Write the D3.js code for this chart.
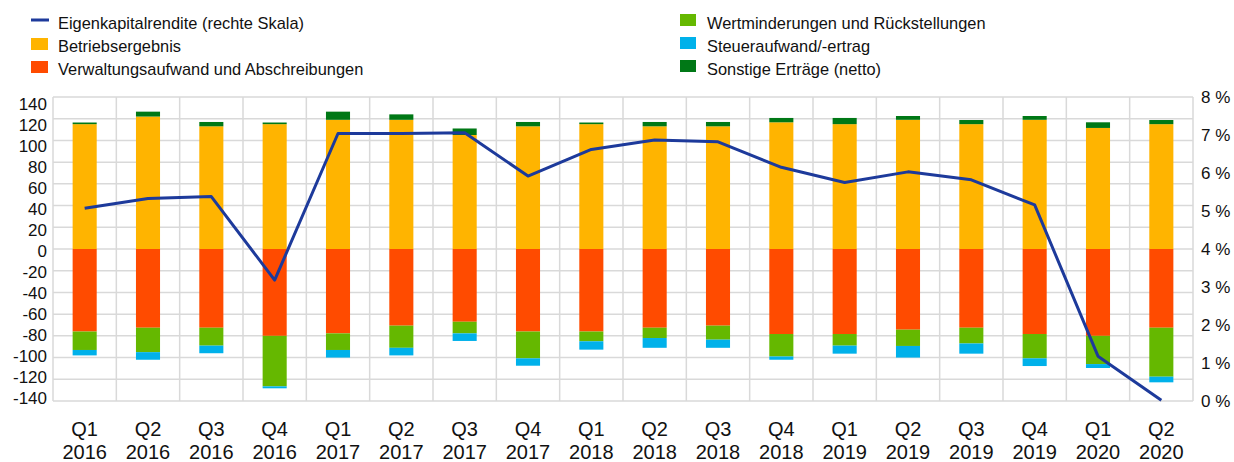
<!DOCTYPE html>
<html lang="de">
<head>
    <meta charset="utf-8" />
    <style>
        body {margin:0; background:#fff;}
        text {font-family: "Liberation Sans", Arial, sans-serif; fill: #111;}
        .grid line {stroke: #d9d9d9; stroke-width: 1.5;}
    </style>
    <script src="https://cdn.jsdelivr.net/npm/d3@7"></script>
</head>
<body>
    <svg></svg>
</body>
<script>
    var width = 1234,
        height = 462;

    // Quartale
    var quarters = ["Q1", "Q2", "Q3", "Q4", "Q1", "Q2", "Q3", "Q4", "Q1", "Q2", "Q3", "Q4", "Q1", "Q2", "Q3", "Q4", "Q1", "Q2"];
    var years = ["2016", "2016", "2016", "2016", "2017", "2017", "2017", "2017", "2018", "2018", "2018", "2018", "2019", "2019", "2019", "2019", "2020", "2020"];

    // Komponenten (linke Skala)
    var betrieb = [115, 122, 113, 115, 119, 119, 105, 113, 115, 113, 113, 116.7, 115, 119, 115, 119, 111.5, 115];
    var sonstige = [1.5, 4.5, 4, 1.5, 7.5, 5, 6, 4, 1.5, 4, 4, 4, 5.7, 3.5, 3.8, 3.5, 5.2, 3.8];
    var verwaltung = [-76, -72.5, -72.5, -80, -77.7, -70.6, -67, -76, -76, -72.5, -70.6, -78.3, -78.3, -74.3, -72.5, -78.3, -80, -72.5];
    var wertmind = [-17, -22.5, -16.5, -46.5, -15.3, -20.4, -10.7, -24.7, -9, -9.5, -12.9, -20.7, -10.7, -15, -14.5, -22.4, -26, -45.1];
    var steuer = [-5, -7, -7, -1.8, -7, -7, -7, -6.8, -7.7, -9, -7.5, -3, -7.4, -10.7, -9.4, -7.1, -3.6, -5.2];

    // Eigenkapitalrendite in % (rechte Skala)
    var roe = [5.07, 5.33, 5.38, 3.18, 7.04, 7.04, 7.06, 5.92, 6.62, 6.87, 6.82, 6.15, 5.75, 6.03, 5.82, 5.16, 1.18, 0.02];

    var leftTicks = [140, 120, 100, 80, 60, 40, 20, 0, -20, -40, -60, -80, -100, -120, -140];
    var rightTicks = [0, 1, 2, 3, 4, 5, 6, 7, 8];

    var keys = ["betrieb", "verwaltung", "wertmind", "steuer", "sonstige"];
    var colors = {betrieb: "#ffb400", verwaltung: "#ff4b00", wertmind: "#65b800", steuer: "#00b1ea", sonstige: "#007816"};

    var legendLeft = [
        {label: "Eigenkapitalrendite (rechte Skala)", type: "line", color: "#1d3a9b"},
        {label: "Betriebsergebnis", type: "rect", color: colors.betrieb},
        {label: "Verwaltungsaufwand und Abschreibungen", type: "rect", color: colors.verwaltung}
    ];
    var legendRight = [
        {label: "Wertminderungen und Rückstellungen", color: colors.wertmind},
        {label: "Steueraufwand/-ertrag", color: colors.steuer},
        {label: "Sonstige Erträge (netto)", color: colors.sonstige}
    ];

    var table = quarters.map(function(q, i) {
        return {i: i, betrieb: betrieb[i], sonstige: sonstige[i], verwaltung: verwaltung[i],
                wertmind: wertmind[i], steuer: steuer[i], roe: roe[i]};
    });

    var plot = {left: 53, right: 1193, top: 97, bottom: 401};

    var x = d3.scaleBand()
        .domain(d3.range(quarters.length))
        .range([plot.left, plot.right])
        .paddingInner(0.62)
        .paddingOuter(0.31);
    var xCat = d3.scaleBand()
        .domain(d3.range(quarters.length))
        .range([plot.left, plot.right]);

    var y = d3.scaleLinear().domain([-140, 140]).range([plot.bottom, plot.top]);
    var yLabel = d3.scaleLinear().domain([-140, 140]).range([398, 104]);
    var y2 = d3.scaleLinear().domain([0, 8]).range([plot.bottom, plot.top]);

    var svg = d3.select("svg")
        .attr("width", width)
        .attr("height", height);

    // Gitternetz
    var grid = svg.append("g").attr("class", "grid");
    grid.selectAll("line.h")
        .data(leftTicks)
      .enter().append("line")
        .attr("x1", plot.left).attr("x2", plot.right)
        .attr("y1", function(d) {return y(d)})
        .attr("y2", function(d) {return y(d)});
    grid.selectAll("line.v")
        .data(d3.range(quarters.length + 1))
      .enter().append("line")
        .attr("x1", function(d) {return d < quarters.length ? xCat(d) : plot.right})
        .attr("x2", function(d) {return d < quarters.length ? xCat(d) : plot.right})
        .attr("y1", plot.top).attr("y2", plot.bottom);

    // Balken
    var series = d3.stack().keys(keys).offset(d3.stackOffsetDiverging)(table);

    svg.append("g").selectAll("g")
        .data(series)
      .enter().append("g")
        .attr("fill", function(d) {return colors[d.key]})
      .selectAll("rect")
        .data(function(d) {return d})
      .enter().append("rect")
        .attr("x", function(d) {return x(d.data.i)})
        .attr("width", x.bandwidth())
        .attr("y", function(d) {return y(Math.max(d[0], d[1]))})
        .attr("height", function(d) {return Math.abs(y(d[0]) - y(d[1]))});

    // Linie
    var line = d3.line()
        .x(function(d) {return xCat(d.i) + xCat.bandwidth() / 2})
        .y(function(d) {return y2(d.roe)});

    svg.append("path")
        .datum(table)
        .attr("fill", "none")
        .attr("stroke", "#1d3a9b")
        .attr("stroke-width", 3)
        .attr("stroke-linejoin", "round")
        .attr("d", line);

    // Achsenbeschriftung links
    svg.append("g").selectAll("text")
        .data(leftTicks)
      .enter().append("text")
        .attr("x", 47)
        .attr("y", function(d) {return yLabel(d)})
        .attr("dy", "0.35em")
        .attr("text-anchor", "end")
        .style("font-size", "17px")
        .text(function(d) {return d});

    // Achsenbeschriftung rechts
    svg.append("g").selectAll("text")
        .data(rightTicks)
      .enter().append("text")
        .attr("x", 1201)
        .attr("y", function(d) {return y2(d)})
        .attr("dy", "0.35em")
        .style("font-size", "17px")
        .text(function(d) {return d + " %"});

    // Kategorien
    var xl = svg.append("g").selectAll("text")
        .data(quarters)
      .enter().append("text")
        .attr("text-anchor", "middle")
        .attr("x", function(d, i) {return xCat(i) + xCat.bandwidth() / 2})
        .style("font-size", "20px");
    xl.append("tspan")
        .attr("x", function(d, i) {return xCat(i) + xCat.bandwidth() / 2})
        .attr("y", 436)
        .text(function(d) {return d});
    xl.append("tspan")
        .attr("x", function(d, i) {return xCat(i) + xCat.bandwidth() / 2})
        .attr("y", 459)
        .text(function(d, i) {return years[i]});

    // Legende
    var baselines = [29, 52, 75];
    var lg = svg.append("g").selectAll("g")
        .data(legendLeft)
      .enter().append("g");
    lg.filter(function(d) {return d.type == "line"}).append("line")
        .attr("x1", 31).attr("x2", 49)
        .attr("y1", baselines[0] - 9)
        .attr("y2", baselines[0] - 9)
        .attr("stroke", function(d) {return d.color})
        .attr("stroke-width", 3);
    lg.filter(function(d) {return d.type == "rect"}).append("rect")
        .attr("x", 31).attr("width", 17).attr("height", 12)
        .attr("y", function(d) {return baselines[legendLeft.indexOf(d)] - 14})
        .attr("fill", function(d) {return d.color});
    lg.append("text")
        .attr("x", 58)
        .attr("y", function(d, i) {return baselines[i]})
        .style("font-size", "16.4px")
        .text(function(d) {return d.label});

    var rg = svg.append("g").selectAll("g")
        .data(legendRight)
      .enter().append("g");
    rg.append("rect")
        .attr("x", 680).attr("width", 16).attr("height", 12)
        .attr("y", function(d, i) {return baselines[i] - 15})
        .attr("fill", function(d) {return d.color});
    rg.append("text")
        .attr("x", 707)
        .attr("y", function(d, i) {return baselines[i]})
        .style("font-size", "16.4px")
        .text(function(d) {return d.label});
</script>
</html>
